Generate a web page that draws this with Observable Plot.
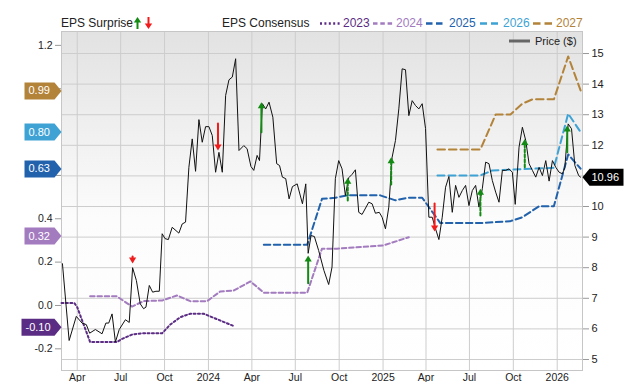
<!DOCTYPE html>
<html><head><meta charset="utf-8">
<script src="https://cdn.jsdelivr.net/npm/d3@7"></script>
<script src="https://cdn.jsdelivr.net/npm/@observablehq/plot@0.6"></script>
<style>
html,body{margin:0;padding:0;background:#fff;}
#chart{position:relative;width:640px;height:382px;font-family:"Liberation Sans",Arial,Helvetica,sans-serif;color:#222;overflow:hidden;}
#chart > svg{position:absolute;left:0;top:0;}
.lg{position:absolute;font-size:12px;line-height:14px;white-space:nowrap;}
.lg svg{position:absolute;}
</style></head><body>
<div id="chart"></div>
<script>
// ---------- DATA ----------
const priceDates = ["2023-03-01","2023-03-15","2023-03-30","2023-04-11","2023-04-20","2023-04-27","2023-05-09","2023-05-23","2023-05-31","2023-06-06","2023-06-13","2023-06-20","2023-06-28","2023-07-11","2023-07-19","2023-07-26","2023-08-03","2023-08-11","2023-08-18","2023-08-23","2023-08-30","2023-09-06","2023-09-13","2023-09-20","2023-09-26","2023-10-02","2023-10-09","2023-10-17","2023-10-31","2023-11-07","2023-11-14","2023-11-21","2023-11-28","2023-12-05","2023-12-12","2023-12-19","2023-12-26","2024-01-02","2024-01-09","2024-01-16","2024-01-23","2024-01-30","2024-02-06","2024-02-13","2024-02-20","2024-02-27","2024-03-05","2024-03-15","2024-03-22","2024-03-30","2024-04-05","2024-04-12","2024-04-17","2024-04-23","2024-04-30","2024-05-07","2024-05-15","2024-05-23","2024-05-29","2024-06-04","2024-06-11","2024-06-18","2024-06-25","2024-07-05","2024-07-16","2024-07-23","2024-07-28","2024-08-03","2024-08-10","2024-08-19","2024-08-30","2024-09-09","2024-09-16","2024-09-23","2024-09-30","2024-10-07","2024-10-14","2024-10-21","2024-10-28","2024-11-04","2024-11-11","2024-11-18","2024-12-02","2024-12-09","2024-12-16","2024-12-24","2024-12-30","2025-01-06","2025-01-13","2025-01-20","2025-01-27","2025-02-03","2025-02-10","2025-02-17","2025-02-24","2025-03-03","2025-03-10","2025-03-17","2025-03-24","2025-03-31","2025-04-07","2025-04-14","2025-04-21","2025-04-28","2025-05-05","2025-05-12","2025-05-19","2025-05-26","2025-06-02","2025-06-09","2025-06-16","2025-06-23","2025-06-30","2025-07-07","2025-07-14","2025-07-21","2025-07-28","2025-08-04","2025-08-11","2025-08-18","2025-08-25","2025-09-01","2025-09-08","2025-09-15","2025-09-22","2025-09-29","2025-10-05","2025-10-13","2025-10-20","2025-10-27","2025-11-03","2025-11-10","2025-11-17","2025-11-24","2025-12-01","2025-12-08","2025-12-15","2025-12-22","2025-12-29","2026-01-05","2026-01-12","2026-01-17","2026-01-24","2026-01-31","2026-02-07","2026-02-15","2026-02-19"];
const priceValues = [8.13,5.62,6.41,6.19,6.14,5.86,5.98,5.84,6.19,6.19,6.49,5.57,5.98,6.30,6.21,8.00,7.58,6.82,6.66,6.71,7.42,7.20,7.23,7.23,9.11,8.95,8.92,9.32,9.13,9.43,9.49,11.28,12.21,11.15,12.84,12.10,12.61,12.61,12.32,11.12,11.77,11.12,13.63,14.14,14.23,14.83,11.83,11.99,11.89,11.31,11.18,11.67,11.50,13.36,13.19,13.41,12.92,11.40,11.34,10.96,10.91,10.25,10.65,10.74,10.09,10.74,8.47,9.05,9.02,8.56,7.91,7.45,8.02,10.91,11.50,11.23,10.36,10.94,11.05,11.20,9.81,9.74,10.14,10.09,9.78,9.81,9.65,9.27,9.98,11.61,12.16,13.19,14.50,14.47,12.97,13.46,13.30,13.19,13.36,12.55,9.65,9.65,9.27,8.92,9.65,10.63,10.98,9.81,10.69,10.30,10.52,10.69,10.03,10.52,10.69,9.98,10.58,11.45,11.40,10.85,10.47,10.14,11.18,11.18,11.23,11.12,10.07,11.94,12.59,12.16,11.40,11.18,10.96,11.28,11.01,11.50,10.83,11.50,11.28,11.12,11.07,11.28,12.70,12.54,11.34,11.01,10.96];

const eps2023Dates = ["2023-02-27","2023-03-26","2023-04-01","2023-04-28","2023-06-23","2023-07-04","2023-07-25","2023-08-15","2023-09-26","2023-10-13","2023-11-03","2023-11-24","2023-12-22","2024-02-23"];
const eps2023Values = [0.011,0.011,-0.008,-0.169,-0.169,-0.154,-0.134,-0.128,-0.128,-0.088,-0.054,-0.038,-0.038,-0.095];
const eps2024Dates = ["2023-04-28","2023-06-23","2023-07-25","2023-08-18","2023-09-26","2023-10-27","2023-11-24","2023-12-29","2024-01-26","2024-02-23","2024-03-29","2024-04-26","2024-07-26","2024-08-26","2024-09-27","2025-01-02","2025-02-24"];
const eps2024Values = [0.042,0.042,-0.005,0.02,0.023,0.046,0.02,0.02,0.065,0.069,0.111,0.059,0.059,0.262,0.262,0.277,0.315];
const eps2025Dates = ["2024-04-26","2024-07-26","2024-08-26","2024-09-23","2024-10-18","2024-12-26","2025-01-27","2025-02-21","2025-03-24","2025-05-01","2025-07-24","2025-09-25","2025-10-20","2025-11-24","2025-12-25","2026-01-24","2026-02-19"];
const eps2025Values = [0.28,0.28,0.492,0.497,0.508,0.508,0.485,0.497,0.497,0.38,0.38,0.389,0.407,0.458,0.458,0.697,0.631];
const eps2026Dates = ["2025-04-25","2025-07-24","2025-08-18","2025-12-25","2026-01-24","2026-02-19"];
const eps2026Values = [0.60,0.60,0.623,0.635,0.885,0.80];
const eps2027Dates = ["2025-04-25","2025-07-24","2025-08-25","2025-09-25","2025-10-20","2025-11-10","2025-12-25","2026-01-24","2026-02-19"];
const eps2027Values = [0.72,0.72,0.881,0.881,0.931,0.951,0.951,1.149,0.992];

const surpriseDates = ["2023-07-26","2024-01-21","2024-04-21","2024-07-28","2024-10-19","2025-01-18","2025-04-19","2025-07-24","2025-10-25","2026-01-22"];
const surpriseFrom = [8.37,12.71,12.43,7.49,10.20,10.72,10.10,9.71,11.28,11.77];
const surpriseTo = [8.14,11.83,13.41,8.40,10.94,11.61,9.18,10.58,12.21,12.65];
const surpriseEstimated = [false,false,false,false,true,true,false,true,true,false];

const seriesNames = ["2023","2024","2025","2026","2027"];
const badgeValues = [-0.10,0.32,0.63,0.80,0.99];
const lastPrice = 10.96;

const xTickDates = ["2023-04-01","2023-07-01","2023-10-01","2024-01-01","2024-04-01","2024-07-01","2024-10-01","2025-01-01","2025-04-01","2025-07-01","2025-10-01","2026-01-01"];
const xTickLabels = ["Apr","Jul","Oct","2024","Apr","Jul","Oct","2025","Apr","Jul","Oct","2026"];
const priceTicks = [5,6,7,8,9,10,11,12,13,14,15];
const priceTicksCovered = [11];          // hidden under the last-price badge
const epsTicks = [-0.2,0,0.2,0.4,0.6,0.8,1.0,1.2];
const epsTicksCovered = [0.6,0.8,1.0];   // hidden under the consensus badges

// axis domains (left EPS axis aligned to right price axis)
const priceDomain = [4.64, 15.72];
const epsDomain = [-0.30, 1.264];
const xDomain = ["2023-02-27","2026-02-23"];

// ---------- STYLE ----------
const seriesColor = {"2023":"#5b2c83","2024":"#a37bbf","2025":"#2262ad","2026":"#3ea3d4","2027":"#b3833a"};
const seriesDash = {"2023":"2,2.4","2024":"4.5,2.8","2025":"6.5,3.5","2026":"7,4","2027":"7.5,4"};
const green = "#138a13", red = "#f01c1c";

// ---------- BUILD ----------
const toP = e => priceDomain[0] + (e - epsDomain[0]) * (priceDomain[1]-priceDomain[0]) / (epsDomain[1]-epsDomain[0]);
const fromP = p => epsDomain[0] + (p - priceDomain[0]) * (epsDomain[1]-epsDomain[0]) / (priceDomain[1]-priceDomain[0]);
const fmtEps = p => { let v = Math.round(fromP(p)*10)/10; if (Math.abs(v) < 1e-9) v = 0; return epsTicksCovered.some(c=>Math.abs(c-v)<1e-6) ? "" : v.toFixed(1); };

const price = priceDates.map((d,i)=>({date:new Date(d), value:priceValues[i]}));
const epsSeries = {
  "2023": eps2023Dates.map((d,i)=>({date:new Date(d), eps:eps2023Values[i]})),
  "2024": eps2024Dates.map((d,i)=>({date:new Date(d), eps:eps2024Values[i]})),
  "2025": eps2025Dates.map((d,i)=>({date:new Date(d), eps:eps2025Values[i]})),
  "2026": eps2026Dates.map((d,i)=>({date:new Date(d), eps:eps2026Values[i]})),
  "2027": eps2027Dates.map((d,i)=>({date:new Date(d), eps:eps2027Values[i]}))
};
const surprises = surpriseDates.map((d,i)=>({date:new Date(d), from:surpriseFrom[i], to:surpriseTo[i], est:surpriseEstimated[i]}));
const xTicks = xTickDates.map(d=>new Date(d));
const xLabel = new Map(xTickDates.map((d,i)=>[+new Date(d), xTickLabels[i]]));

const headUp = {draw(ctx){ctx.moveTo(0,0);ctx.lineTo(3.6,6);ctx.lineTo(-3.6,6);ctx.closePath();}};
const headDown = {draw(ctx){ctx.moveTo(0,0);ctx.lineTo(3.6,-6);ctx.lineTo(-3.6,-6);ctx.closePath();}};
const badgeL = w => ({draw(ctx){ctx.moveTo(0,0);ctx.lineTo(-7,-8.5);ctx.lineTo(-w,-8.5);ctx.lineTo(-w,8.5);ctx.lineTo(-7,8.5);ctx.closePath();}});
const badgeR = w => ({draw(ctx){ctx.moveTo(0,0);ctx.lineTo(7,-8.5);ctx.lineTo(w,-8.5);ctx.lineTo(w,8.5);ctx.lineTo(7,8.5);ctx.closePath();}});

const marks = [
  Plot.frame({fill:"url(#bgGrad)", stroke:"none"}),
  Plot.gridY(priceTicks, {stroke:"#cdcdcd", strokeOpacity:1}),
  Plot.gridX(xTicks, {stroke:"#cdcdcd", strokeOpacity:1}),
  Plot.frame({stroke:"#c6c6c6"})
];
for (const s of seriesNames) {
  marks.push(Plot.line(epsSeries[s], {x:"date", y:d=>toP(d.eps), stroke:seriesColor[s], strokeWidth:2, strokeDasharray:seriesDash[s], curve:"linear"}));
}
marks.push(Plot.line(price, {x:"date", y:"value", stroke:"#111", strokeWidth:1}));
// surprise arrows
for (const est of [false,true]) {
  for (const up of [true,false]) {
    const sub = surprises.filter(d=>d.est===est && (d.to>d.from)===up);
    if (!sub.length) continue;
    marks.push(Plot.arrow(sub, {x1:"date", x2:"date", y1:"from", y2:"to", stroke: up?green:red, strokeWidth:2, headLength:0, insetEnd:4, strokeDasharray: est?"3,2":null}));
    marks.push(Plot.dot(sub, {x:"date", y:"to", symbol: up?headUp:headDown, fill: up?green:red, stroke:"none"}));
  }
}
// axes
marks.push(Plot.axisY(priceTicks, {anchor:"right", tickSize:6, tickPadding:3, stroke:"#999", fill:"#222", fontSize:11, tickFormat:d=>priceTicksCovered.includes(d) ? "" : String(d)}));
marks.push(Plot.axisY(epsTicks.map(toP), {anchor:"left", tickSize:6, tickPadding:3, stroke:"#999", fill:"#222", fontSize:10.5, tickFormat:fmtEps}));
marks.push(Plot.axisX(xTicks, {anchor:"bottom", tickSize:0, tickPadding:3, fill:"#222", fontSize:10.5, tickFormat:d=>xLabel.get(+d)}));
// badges
badgeValues.forEach((v,i)=>{
  const name = seriesNames[i];
  const w = v < 0 ? 40 : 37;
  marks.push(Plot.dot([v], {y:d=>toP(d), frameAnchor:"left", symbol:badgeL(w), fill:seriesColor[name], stroke:"none"}));
  marks.push(Plot.text([v], {y:d=>toP(d), frameAnchor:"left", dx:-(w-4), textAnchor:"start", text:d=>d.toFixed(2), fill:"white", fontSize:11}));
});
marks.push(Plot.dot([lastPrice], {y:d=>d, frameAnchor:"right", symbol:badgeR(41), fill:"#000", stroke:"none"}));
marks.push(Plot.text([lastPrice], {y:d=>d, frameAnchor:"right", dx:9, textAnchor:"start", text:d=>d.toFixed(2), fill:"white", fontSize:11}));

const plot = Plot.plot({
  width:640, height:382,
  marginTop:31, marginBottom:12, marginLeft:61, marginRight:58,
  x:{type:"utc", domain:xDomain.map(d=>new Date(d))},
  y:{domain:priceDomain},
  style:{fontFamily:"'Liberation Sans', Arial, sans-serif", fontSize:"11px", color:"#222", background:"transparent", overflow:"visible"},
  marks
});
const chart = document.getElementById("chart");
chart.appendChild(plot);
const defs = d3.select(plot).insert("defs", ":first-child");
const lg = defs.append("linearGradient").attr("id","bgGrad").attr("x1",0).attr("y1",0).attr("x2",0).attr("y2",1);
lg.append("stop").attr("offset","0").attr("stop-color","#e2e2e2");
lg.append("stop").attr("offset","0.55").attr("stop-color","#fcfcfc");
lg.append("stop").attr("offset","1").attr("stop-color","#ffffff");

// ---------- LEGENDS (HTML) ----------
function addEl(html, left, top){ const d=document.createElement("div"); d.className="lg"; d.style.left=left+"px"; d.style.top=top+"px"; d.innerHTML=html; chart.appendChild(d); return d; }
addEl("EPS Surprise", 61, 16);
addEl(`<svg width="20" height="14" style="left:0;top:0"><line x1="3.5" y1="13" x2="3.5" y2="5" stroke="${green}" stroke-width="2"/><path d="M3.5,1 L7.2,6.5 L-0.2,6.5Z" fill="${green}"/><line x1="14.5" y1="1" x2="14.5" y2="9" stroke="${red}" stroke-width="2"/><path d="M14.5,13 L18.2,7.5 L10.8,7.5Z" fill="${red}"/></svg>`, 134, 16);
addEl("EPS Consensus", 222, 16);
const lgX = {"2023":320,"2024":373,"2025":426,"2026":480,"2027":533};
for (const s of seriesNames) {
  addEl(`<svg width="20" height="14" style="left:0;top:0"><line x1="0" y1="7.5" x2="20" y2="7.5" stroke="${seriesColor[s]}" stroke-width="2.4" stroke-dasharray="${seriesDash[s]}"/></svg><span style="position:absolute;left:23px;top:0;color:${seriesColor[s]}">${s}</span>`, lgX[s], 16);
}
addEl(`<svg width="22" height="12" style="left:0;top:0"><line x1="0" y1="6" x2="21" y2="6" stroke="#666" stroke-width="3"/></svg><span style="position:absolute;left:26px;top:-1px;font-size:11px">Price ($)</span>`, 509, 35);
</script>
</body></html>
